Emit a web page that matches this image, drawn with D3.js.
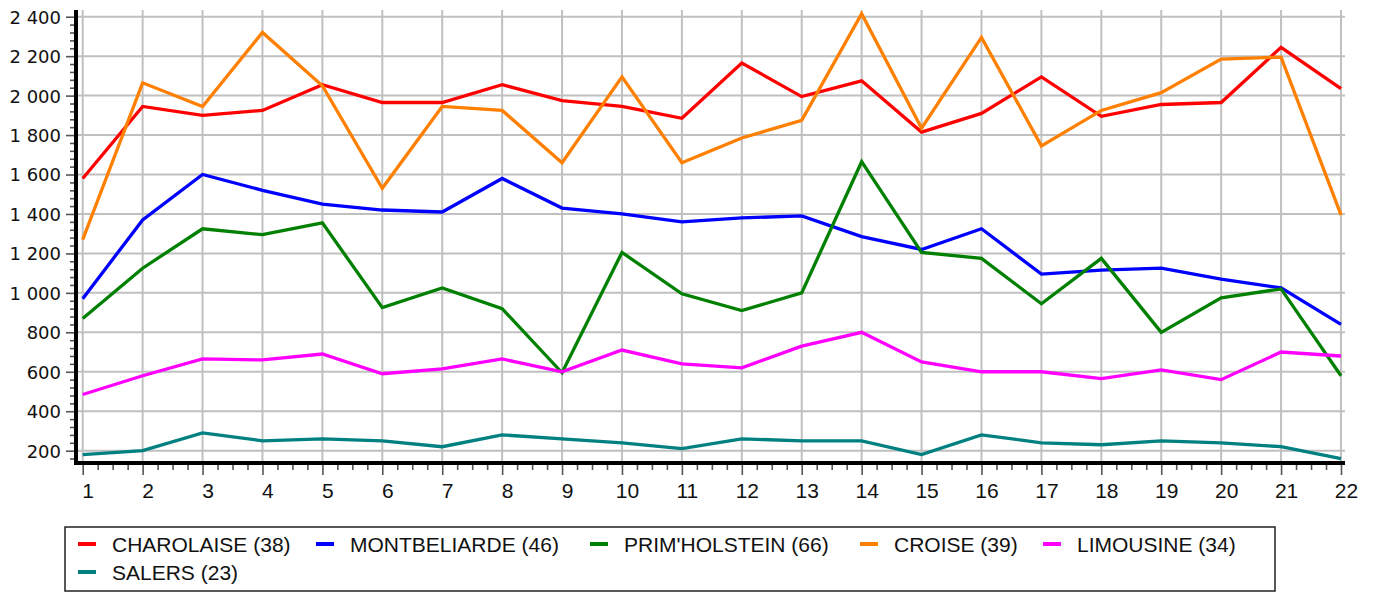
<!DOCTYPE html>
<html>
<head>
<meta charset="utf-8">
<script src="https://cdn.jsdelivr.net/npm/d3@7"></script>
<style>
  html, body { margin: 0; padding: 0; background: #fff; }
  svg { display: block; }
</style>
</head>
<body>
<svg id="chart" width="1375" height="592"></svg>
<script>
// ---- data ----
const xValues = [1,2,3,4,5,6,7,8,9,10,11,12,13,14,15,16,17,18,19,20,21,22];
const seriesNames = ["CHAROLAISE (38)", "MONTBELIARDE (46)", "PRIM'HOLSTEIN (66)", "CROISE (39)", "LIMOUSINE (34)", "SALERS (23)"];
const charolaise   = [1580,1945,1900,1925,2055,1965,1965,2055,1975,1945,1885,2165,1995,2075,1815,1910,2095,1895,1955,1965,2245,2035];
const montbeliarde = [970,1370,1600,1520,1450,1420,1410,1580,1430,1400,1360,1380,1390,1285,1220,1325,1095,1115,1125,1070,1025,840];
const primholstein = [870,1125,1325,1295,1355,925,1025,920,595,1205,995,910,1000,1665,1205,1175,945,1175,800,975,1020,580];
const croise       = [1270,2065,1945,2320,2050,1530,1945,1925,1660,2095,1660,1785,1875,2415,1835,2295,1745,1925,2015,2185,2195,1395];
const limousine    = [485,580,665,660,690,590,615,665,600,710,640,620,730,800,650,600,600,565,610,560,700,680];
const salers       = [180,200,290,250,260,250,220,280,260,240,210,260,250,250,180,280,240,230,250,240,220,160];
const seriesColors = ["#ff0000", "#0000ff", "#008000", "#ff8000", "#ff00ff", "#008080"];
const yTickValues = [200,400,600,800,1000,1200,1400,1600,1800,2000,2200,2400];
const allSeries = [charolaise, montbeliarde, primholstein, croise, limousine, salers];

// ---- layout ----
const svg = d3.select("#chart");
const plotLeft = 76, plotRight = 1345, plotTop = 10, plotBottom = 463;

const x = d3.scaleLinear().domain([0.888, 22.067]).range([plotLeft, plotRight]);
const y = d3.scaleLinear().domain([137.5, 2434]).range([plotBottom, plotTop]);

const fmt = d3.formatLocale({decimal: ",", thousands: "\u00a0", grouping: [3], currency: ["", ""]}).format(",d");

// gridlines
const grid = svg.append("g");
grid.selectAll("line.h").data(yTickValues).join("line")
  .attr("x1", plotLeft + 2).attr("x2", plotRight)
  .attr("y1", d => y(d)).attr("y2", d => y(d))
  .attr("stroke", "#c0c0c0").attr("stroke-width", 2);
grid.selectAll("line.v").data(xValues).join("line")
  .attr("x1", d => x(d)).attr("x2", d => x(d))
  .attr("y1", plotTop).attr("y2", plotBottom - 2)
  .attr("stroke", "#c0c0c0").attr("stroke-width", 2);

// y axis (minor + major ticks)
const yMinor = d3.range(160, 2401, 40).filter(v => v % 200 !== 0);
const yAxisMinor = d3.axisLeft(y).tickValues(yMinor).tickSize(4).tickFormat("");
const yAxisMajor = d3.axisLeft(y).tickValues(yTickValues).tickSize(8).tickPadding(5).tickFormat(fmt);
const gyMinor = svg.append("g").attr("transform", `translate(${plotLeft - 2},0)`).call(yAxisMinor);
const gy = svg.append("g").attr("transform", `translate(${plotLeft - 2},0)`).call(yAxisMajor);
[gyMinor, gy].forEach(g => {
  g.select(".domain").remove();
  g.selectAll(".tick line").attr("stroke", "#555").attr("stroke-width", 1.6);
});
gy.selectAll(".tick text")
  .attr("font-family", "'DejaVu Sans', sans-serif").attr("font-size", 18)
  .attr("fill", "#111").attr("x", -13).attr("dy", "0.36em");

// x axis (minor + major ticks)
const xMinor = d3.range(1, 22.01, 0.25).filter(v => v % 1 !== 0);
const xAxisMinor = d3.axisBottom(x).tickValues(xMinor).tickSize(5).tickFormat("");
const xAxisMajor = d3.axisBottom(x).tickValues(xValues).tickSize(10).tickFormat(d3.format("d"));
const gxMinor = svg.append("g").attr("transform", `translate(0,${plotBottom + 2})`).call(xAxisMinor);
const gx = svg.append("g").attr("transform", `translate(0,${plotBottom + 2})`).call(xAxisMajor);
[gxMinor, gx].forEach(g => {
  g.select(".domain").remove();
  g.selectAll(".tick line").attr("stroke", "#555").attr("stroke-width", 1.6);
});
gx.selectAll(".tick text")
  .attr("font-family", "'Liberation Sans', Arial, sans-serif").attr("font-size", 21)
  .attr("fill", "#111").attr("x", 5).attr("y", 33).attr("dy", 0);

// axis lines
svg.append("line").attr("x1", plotLeft).attr("x2", plotLeft).attr("y1", plotTop).attr("y2", plotBottom + 2)
  .attr("stroke", "#000").attr("stroke-width", 4);
svg.append("line").attr("x1", plotLeft - 2).attr("x2", plotRight).attr("y1", plotBottom).attr("y2", plotBottom)
  .attr("stroke", "#000").attr("stroke-width", 4);

// series lines
const line = d3.line().x((d, i) => x(xValues[i])).y(d => y(d));
svg.append("g").selectAll("path").data(allSeries).join("path")
  .attr("d", d => line(d))
  .attr("fill", "none")
  .attr("stroke", (d, i) => seriesColors[i])
  .attr("stroke-width", 3.3)
  .attr("stroke-linejoin", "miter");

// legend
const legend = svg.append("g");
legend.append("rect").attr("x", 65).attr("y", 527).attr("width", 1210).attr("height", 64)
  .attr("fill", "none").attr("stroke", "#222").attr("stroke-width", 1.5);
const legendPos = [[78, 544], [316, 544], [590, 544], [860, 544], [1043, 544], [78, 572]];
const items = legend.selectAll("g.item").data(seriesNames).join("g")
  .attr("transform", (d, i) => `translate(${legendPos[i][0]},${legendPos[i][1]})`);
items.append("line").attr("x1", 0).attr("x2", 18).attr("y1", 0).attr("y2", 0)
  .attr("stroke", (d, i) => seriesColors[i]).attr("stroke-width", 4);
items.append("text").attr("x", 34).attr("y", 0).attr("dy", "0.36em")
  .attr("font-family", "'Liberation Sans', Arial, sans-serif").attr("font-size", 21)
  .attr("fill", "#111").text(d => d);
</script>
</body>
</html>
